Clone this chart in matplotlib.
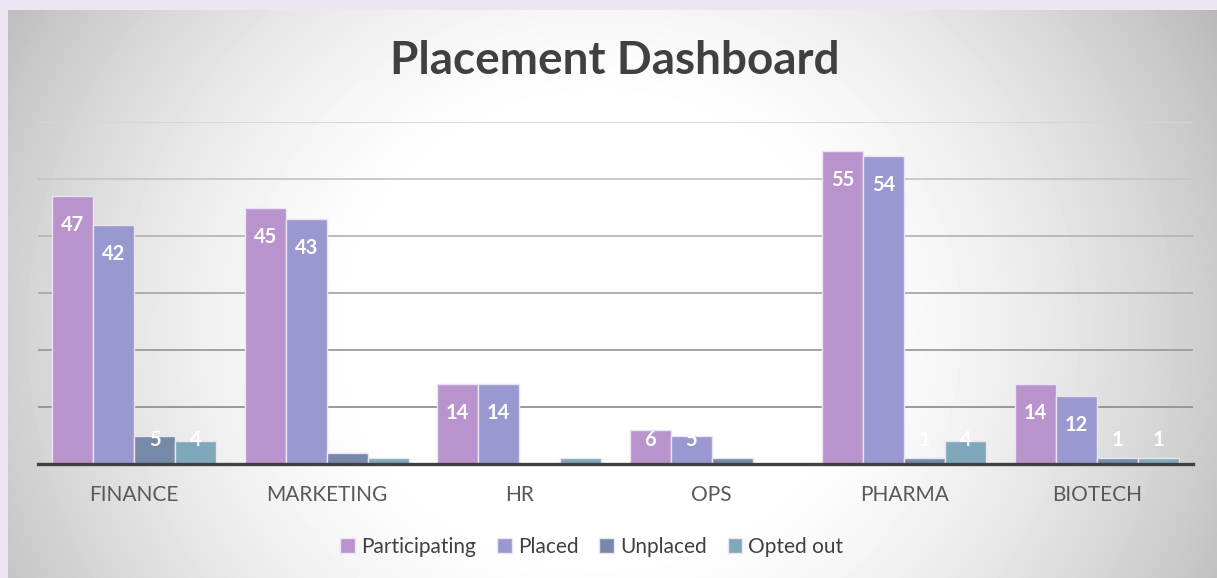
import numpy as np
import matplotlib
matplotlib.use("Agg")
import matplotlib.pyplot as plt
from matplotlib.patches import Patch

plt.rcParams['font.family'] = ['Lato', 'DejaVu Sans']

categories = ['FINANCE', 'MARKETING', 'HR', 'OPS', 'PHARMA', 'BIOTECH']
participating = [47, 45, 14, 6, 55, 14]
placed = [42, 43, 14, 5, 54, 12]
unplaced = [5, 2, 0, 1, 1, 1]
opted_out = [4, 1, 1, 0, 4, 1]

series_names = ['Participating', 'Placed', 'Unplaced', 'Opted out']
series_values = [participating, placed, unplaced, opted_out]
colors = ['#b994cc', '#9a98d0', '#7689a8', '#7fa8ba']

W, H = 1217, 578
fig = plt.figure(figsize=(W / 100, H / 100), dpi=100, facecolor='#ede5f3')

# background panel with a soft radial highlight
bg = fig.add_axes([8 / W, 0, (W - 8) / W, (H - 10) / H])
yy, xx = np.mgrid[10:H, 8:W]
d2 = ((xx - 600) / 650.0) ** 2 + ((yy - 330) / 600.0) ** 2
shade = np.clip(265 - 68 * d2, 185, 255) / 255.0
bg.imshow(shade, cmap='gray', vmin=0, vmax=1, aspect='auto', interpolation='bilinear')
bg.set_axis_off()

# main plot area
ax = fig.add_axes([38 / W, (H - 464) / H, 1155 / W, 342 / H])
ax.patch.set_alpha(0)
ax.set_ylim(0, 60)
ax.set_xlim(-0.5, len(categories) - 0.5)

grid_colors = {10: '#929292', 20: '#9c9c9c', 30: '#a8a8a8', 40: '#b6b6b6', 50: '#c6c6c6', 60: '#d6d6d6'}
for val, c in grid_colors.items():
    ax.axhline(val, color=c, lw=1.3, zorder=0)

x = np.arange(len(categories))
bw = 0.213
for i, (name, vals, col) in enumerate(zip(series_names, series_values, colors)):
    pos = x + (i - 1.5) * bw
    ax.bar(pos, vals, width=bw, color=col, edgecolor='#ebe3f2', linewidth=1.0, label=name, zorder=2)
    for px, v in zip(pos, vals):
        if v == 0:
            continue
        ax.text(px, max(v - 5.1, 4.2), str(v), ha='center', va='center', color='white',
                fontsize=14.5, fontweight='bold', zorder=3)

for s in ['top', 'right', 'left']:
    ax.spines[s].set_visible(False)
ax.spines['bottom'].set_color('#404040')
ax.spines['bottom'].set_linewidth(2.4)
ax.spines['bottom'].set_zorder(4)
ax.set_yticks([])
ax.set_xticks(x)
ax.set_xticklabels(categories, fontsize=15, color='#595959')
ax.tick_params(axis='x', length=0, pad=15)

fig.text(615 / W, 1 - 61 / H, 'Placement Dashboard', ha='center', va='center',
         fontsize=33, fontweight='bold', color='#404040')

handles = [Patch(facecolor=c, edgecolor='#ebe3f2', label=n) for n, c in zip(series_names, colors)]
fig.legend(handles=handles, loc='center', bbox_to_anchor=(592 / W, 1 - 547 / H), ncol=4,
           frameon=False, fontsize=15, labelcolor='#404040', handlelength=0.7, handleheight=0.7,
           handletextpad=0.3, columnspacing=1.0)

fig.savefig('out.png', dpi=100, facecolor=fig.get_facecolor())
